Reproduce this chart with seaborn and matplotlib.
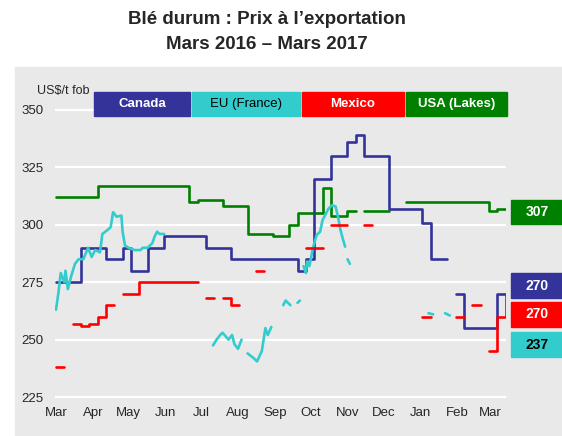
import numpy as np
import pandas as pd
import matplotlib.pyplot as plt
import matplotlib.dates as mdates
from matplotlib.patches import Rectangle
import seaborn as sns

nan = np.nan

# weekly quotes (US$/t fob) starting 1 March 2016, nan = no quote
start = pd.Timestamp('2016-03-01')
weeks = start + pd.to_timedelta(np.arange(55) * 7, unit='D')

canada = [275, 275, 275, 290, 290, 290, 285, 285, 290, 280,
          280, 290, 290, 295, 295, 295, 295, 295, 290, 290,
          290, 285, 285, 285, 285, 285, 285, 285, 285, 280,
          285, 320, 320, 330, 330, 336, 339, 330, 330, 330,
          307, 307, 307, 307, 301, 285, 285, nan, 270, 255,
          255, 255, 255, 270, 270]

mexico = [238, nan, 257, 256, 257, 260, 265, nan, 270, 270,
          275, 275, 275, 275, 275, 275, 275, nan, 268, nan,
          268, 265, nan, nan, 280, nan, nan, nan, nan, nan,
          290, 290, nan, 300, 300, nan, nan, 300, nan, nan,
          nan, nan, nan, nan, 260, nan, nan, nan, 260, nan,
          265, nan, 245, 260, 270]

usa = [312, 312, 312, 312, 312, 317, 317, 317, 317, 317,
       317, 317, 317, 317, 317, 317, 310, 311, 311, 311,
       308, 308, 308, 296, 296, 296, 295, 295, 300, 305,
       305, 305, 316, 304, 304, 306, nan, 306, 306, 306,
       nan, nan, 310, 310, 310, 310, 310, 310, 310, 310,
       310, 310, 306, 307, 307]

# EU (France): day offset from 1 March 2016, nan = gap in the series
eu_day = [0, 2, 4, 7, 8, 10, 13, 16, 19, 23, 27, 30, 33, 37, 39, 44, 46, 48,
          51, 55, 56, 58, 61, 66, 71, 73, 77, 81, 83, 85, 87, 91, nan,
          132, 135, 138, 140, 145, 148, 150, 153, 156, nan,
          161, 166, 169, 173, 176, 178, 181, nan,
          191, 193, 197, nan,
          203, 205, nan,
          208, 210, 211, 213, 216, 219, 222, 224, 229, 232, 235, 237, 239,
          241, 243, nan,
          245, 247, nan,
          313, 317, nan,
          327, 331]
eu_price = [263, 270, 279, 275, 280, 272, 278, 283, 285, 285, 290, 286, 289,
            288, 296, 298, 299, 305.5, 303.5, 304, 297, 291, 290, 289, 289,
            290, 290, 292, 295, 297, 296, 296, nan,
            247.5, 250, 252, 253, 250, 252, 248, 246, 250, nan,
            244, 242, 240.5, 245, 255, 252, 255.5, nan,
            265, 267, 265, nan,
            266, 267, nan,
            282, 279, 284, 282, 290, 295.5, 297, 302, 307, 308.5, 308, 303.5,
            298, 294, 290.5, nan,
            285, 283, nan,
            261.5, 261, nan,
            261.5, 260.5]

names = ['Canada', 'EU (France)', 'Mexico', 'USA (Lakes)']
colors = ['#333399', '#33cccc', '#ff0000', '#008000']
last_labels = ['270', '237', '270', '307']


def runs(x, y, extend=False):
    # split a series at its gaps; for steps, carry the last value to the next slot
    rows = []
    seg = 0
    for i in range(len(y)):
        if np.isnan(y[i]):
            seg += 1
            continue
        rows.append((x[i], y[i], seg))
        if extend and i + 1 < len(y) and np.isnan(y[i + 1]):
            rows.append((x[i + 1], y[i], seg))
    return pd.DataFrame(rows, columns=['date', 'price', 'seg'])


sns.set_style('darkgrid', {'axes.facecolor': '#e9e9e9', 'grid.color': 'white'})
plt.rcParams['font.family'] = ['Liberation Sans', 'DejaVu Sans']

W, H = 562, 436
fx = lambda px: px / W
fy = lambda py: 1 - py / H

fig = plt.figure(figsize=(W / 100, H / 100), dpi=100)
fig.patches.append(Rectangle((fx(15), 0), 1 - fx(15), fy(67), transform=fig.transFigure,
                             color='#e9e9e9', zorder=-1))
ax = fig.add_axes([fx(55), fy(401.6), fx(506) - fx(55), fy(105.4) - fy(401.6)])

eu_dates = start + pd.to_timedelta(eu_day, unit='D')

lw = 1.9
sns.lineplot(data=runs(weeks, usa, True), x='date', y='price', units='seg', estimator=None,
             color=colors[3], lw=lw, drawstyle='steps-post', ax=ax, legend=False)
sns.lineplot(data=runs(weeks, canada, True), x='date', y='price', units='seg', estimator=None,
             color=colors[0], lw=lw, drawstyle='steps-post', ax=ax, legend=False)
sns.lineplot(data=runs(eu_dates, eu_price), x='date', y='price', units='seg', estimator=None,
             color=colors[1], lw=lw, ax=ax, legend=False)
sns.lineplot(data=runs(weeks, mexico, True), x='date', y='price', units='seg', estimator=None,
             color=colors[2], lw=lw, drawstyle='steps-post', ax=ax, legend=False)

ax.set_xlim(start - pd.Timedelta(days=0.8), start + pd.Timedelta(days=378.2))
ax.set_ylim(223, 352)
ax.set_yticks([225, 250, 275, 300, 325, 350])
ax.xaxis.set_major_locator(mdates.MonthLocator())
ax.xaxis.set_major_formatter(mdates.DateFormatter('%b'))
ax.grid(axis='x', visible=False)
ax.grid(axis='y', color='white', lw=1.6)
ax.tick_params(axis='y', length=0, labelsize=9.5, pad=8)
ax.tick_params(axis='x', length=0, labelsize=9.5, pad=4)
ax.set_xlabel('')
ax.set_ylabel('')
for s in ax.spines.values():
    s.set_visible(False)

# title
fig.text(fx(267), fy(24), 'Blé durum : Prix à l’exportation', ha='center', va='baseline',
         fontsize=13.5, weight='bold')
fig.text(fx(267), fy(49), 'Mars 2016 – Mars 2017', ha='center', va='baseline',
         fontsize=13.5, weight='bold')
fig.text(fx(37), fy(94), 'US$/t fob', ha='left', va='baseline', fontsize=9)

# legend boxes along the top
legend_boxes = [(94, 190), (192, 300), (302, 404), (406, 507)]
text_colors = ['white', 'black', 'white', 'white']
weights = ['bold', 'normal', 'bold', 'bold']
for (x0, x1), name, c, tc, wt in zip(legend_boxes, names, colors, text_colors, weights):
    fig.patches.append(Rectangle((fx(x0), fy(116)), fx(x1) - fx(x0), fy(92) - fy(116),
                                 transform=fig.transFigure, color=c, zorder=3))
    fig.text(fx((x0 + x1) / 2), fy(104), name, ha='center', va='center', color=tc,
             fontsize=9.5, weight=wt, zorder=4)

# latest value boxes on the right
value_boxes = [(273, 298), (332, 357), (302, 327), (200, 224)]
for (y0, y1), lab, c, tc in zip(value_boxes, last_labels, colors, text_colors):
    fig.patches.append(Rectangle((fx(511), fy(y1)), 1 - fx(511), fy(y0) - fy(y1),
                                 transform=fig.transFigure, color=c, zorder=3))
    fig.text(fx(537), fy((y0 + y1) / 2), lab, ha='center', va='center', color=tc,
             fontsize=10, weight='bold', zorder=4)

fig.savefig('out.png', dpi=100)
